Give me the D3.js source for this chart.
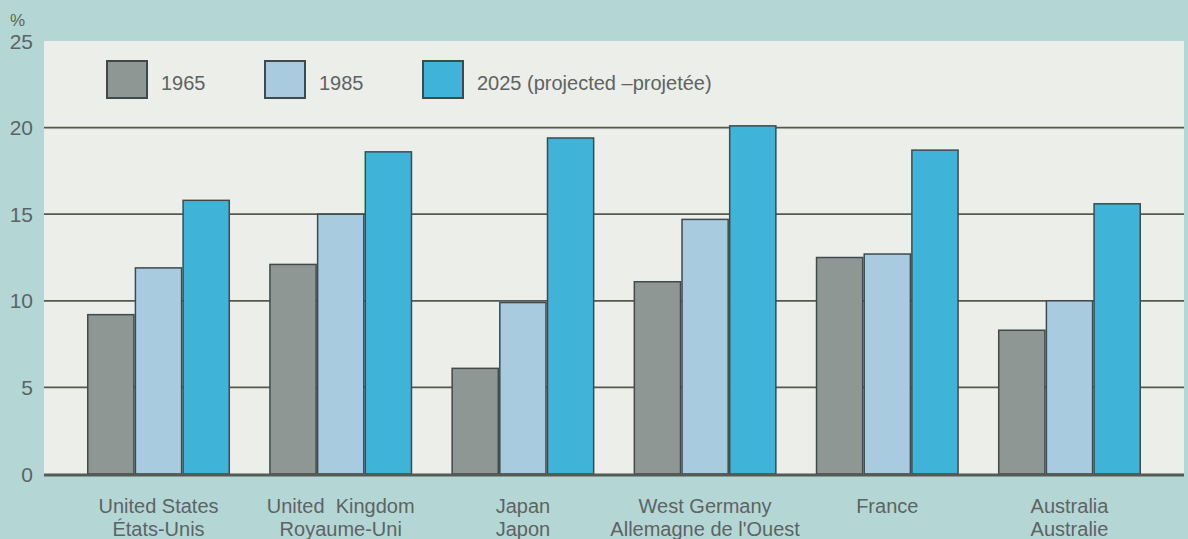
<!DOCTYPE html>
<html><head><meta charset="utf-8">
<script src="https://cdn.jsdelivr.net/npm/d3@7"></script>
<style>
html,body{margin:0;padding:0;background:#b4d7d6;}
svg{display:block;font-family:"Liberation Sans",Arial,Helvetica,sans-serif;}
</style></head>
<body>
<svg id="chart" width="1188" height="539"></svg>
<script>
const categories = ["United States","United  Kingdom","Japan","West Germany","France","Australia"];
const categoriesFr = ["États-Unis","Royaume-Uni","Japon","Allemagne de l'Ouest","",  "Australie"];
const seriesNames = ["1965","1985","2025 (projected –projetée)"];
const values1965 = [9.2, 12.1, 6.1, 11.1, 12.5, 8.3];
const values1985 = [11.9, 15.0, 9.9, 14.7, 12.7, 10.0];
const values2025 = [15.8, 18.6, 19.4, 20.1, 18.7, 15.6];
const yTicks = [0,5,10,15,20,25];

const colors = ["#8e9794","#a9cbdf","#3fb4d8"];
const series = [values1965, values1985, values2025];

const svg = d3.select("#chart");
const W = 1188, H = 539;
const plotL = 44, plotR = 1184;

const y = d3.scaleLinear().domain([0,25]).range([474,41]);
const x0 = d3.scaleBand().domain(categories).range([plotL, plotR]).paddingInner(0.215).paddingOuter(0.236);
const x1 = d3.scaleBand().domain(d3.range(3)).range([0, x0.bandwidth()]).padding(0);

svg.append("rect").attr("width",W).attr("height",H).attr("fill","#b4d7d6");
svg.append("rect").attr("x",plotL).attr("y",y(25)).attr("width",plotR-plotL).attr("height",y(0)-y(25)).attr("fill","#eceeea");

svg.append("g").selectAll("line").data(yTicks.filter(d=>d>0 && d<25)).join("line")
  .attr("x1",plotL).attr("x2",plotR).attr("y1",d=>y(d)).attr("y2",d=>y(d))
  .attr("stroke","#55584e").attr("stroke-width",1.8);

svg.append("g").selectAll("text").data(yTicks).join("text")
  .attr("x",33).attr("y",d=>y(d)).attr("dy","0.36em")
  .attr("text-anchor","end").attr("font-size",21).attr("fill","#5e6363")
  .text(d=>d);
svg.append("text").attr("x",10).attr("y",26).attr("font-size",17).attr("fill","#5e6363").text("%");

const groups = svg.append("g").selectAll("g").data(categories).join("g")
  .attr("transform",d=>`translate(${x0(d)},0)`);
groups.selectAll("rect").data((d,i)=>series.map((s,k)=>({k, v:s[i]}))).join("rect")
  .attr("x",d=>x1(d.k)+0.75).attr("width",x1.bandwidth()-1.5)
  .attr("y",d=>y(d.v)).attr("height",d=>y(0)-y(d.v))
  .attr("fill",d=>colors[d.k]).attr("stroke","#3f4a4c").attr("stroke-width",1.5);

svg.append("line").attr("x1",plotL).attr("x2",plotR).attr("y1",y(0)+1).attr("y2",y(0)+1)
  .attr("stroke","#555a55").attr("stroke-width",3);

const lab = svg.append("g").attr("font-size",20).attr("fill","#5e6363").attr("text-anchor","middle");
lab.selectAll("text.l1").data(categories).join("text").attr("class","l1")
  .attr("x",d=>x0(d)+x0.bandwidth()/2).attr("y",513).attr("xml:space","preserve")
  .style("white-space","pre").text(d=>d);
lab.selectAll("text.l2").data(categoriesFr).join("text").attr("class","l2")
  .attr("x",(d,i)=>x0(categories[i])+x0.bandwidth()/2).attr("y",536).text(d=>d);

const legendX = [107, 265, 423];
const leg = svg.append("g").selectAll("g").data(seriesNames).join("g")
  .attr("transform",(d,i)=>`translate(${legendX[i]},61)`);
leg.append("rect").attr("width",40).attr("height",37).attr("fill",(d,i)=>colors[i])
  .attr("stroke","#3f4a4c").attr("stroke-width",2);
leg.append("text").attr("x",54).attr("y",29).attr("font-size",20).attr("fill","#5e6363").text(d=>d);
</script>
</body></html>
